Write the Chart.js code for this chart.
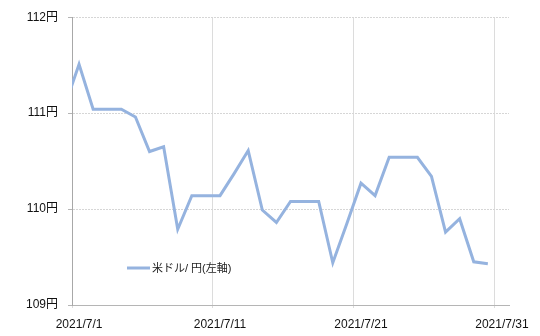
<!DOCTYPE html>
<html lang="ja">
<head>
<meta charset="utf-8">
<title>米ドル/円</title>
<script src="https://cdn.jsdelivr.net/npm/chart.js@4"></script>
<style>
  html, body { margin: 0; padding: 0; background: #fff; }
  #wrap { width: 540px; height: 336px; }
</style>
</head>
<body>
<div id="wrap"><canvas id="chart1" width="540" height="336"></canvas></div>
<script>
// datos (6/30 solo para que la línea entre desde el borde)
const fechas = [
  '2021/6/30',
  '2021/7/1', '2021/7/2', '2021/7/3', '2021/7/4', '2021/7/5', '2021/7/6', '2021/7/7',
  '2021/7/8', '2021/7/9', '2021/7/10', '2021/7/11', '2021/7/12', '2021/7/13', '2021/7/14',
  '2021/7/15', '2021/7/16', '2021/7/17', '2021/7/18', '2021/7/19', '2021/7/20', '2021/7/21',
  '2021/7/22', '2021/7/23', '2021/7/24', '2021/7/25', '2021/7/26', '2021/7/27', '2021/7/28',
  '2021/7/29', '2021/7/30', '2021/7/31'
];
const usdJpy = [
  111.08,
  111.51, 111.04, 111.04, 111.04, 110.96, 110.60, 110.65,
  109.79, 110.14, 110.14, 110.14, 110.37, 110.61, 109.99,
  109.86, 110.08, 110.08, 110.08, 109.44, 109.85, 110.27,
  110.14, 110.54, 110.54, 110.54, 110.34, 109.76, 109.90,
  109.45, 109.43, null
];
const serieLabel = '米ドル/ 円(左軸)';
const yTicks = [109, 110, 111, 112];
const primerDia = '2021/7/1';

const fuente = "'Liberation Sans', 'Noto Sans CJK JP', sans-serif";

// leyenda dentro del área del gráfico
const leyendaDentro = {
  id: 'leyendaDentro',
  afterDatasetsDraw(chart) {
    const { ctx, chartArea } = chart;
    const ds = chart.data.datasets[0];
    const x = chartArea.left + 55;
    const y = chartArea.bottom - 37;
    ctx.save();
    ctx.strokeStyle = ds.borderColor;
    ctx.lineWidth = 3;
    ctx.beginPath();
    ctx.moveTo(x, y);
    ctx.lineTo(x + 23, y);
    ctx.stroke();
    ctx.font = '11px ' + fuente;
    ctx.fillStyle = '#222';
    ctx.textBaseline = 'middle';
    ctx.textAlign = 'left';
    ctx.fillText(ds.label, x + 25, y + 0.5);
    ctx.restore();
  }
};

const ctx1 = document.getElementById('chart1').getContext('2d');
new Chart(ctx1, {
  type: 'line',
  data: {
    labels: fechas,
    datasets: [{
      label: serieLabel,
      data: usdJpy,
      borderColor: '#95B3DF',
      borderWidth: 3,
      pointRadius: 0,
      tension: 0,
      clip: 0,
      fill: false
    }]
  },
  options: {
    responsive: false,
    animation: false,
    devicePixelRatio: 1,
    layout: { padding: { top: 12.7, right: 31, bottom: 0, left: 0 } },
    plugins: {
      legend: { display: false },
      tooltip: { enabled: false }
    },
    scales: {
      x: {
        type: 'category',
        min: primerDia,
        offset: true,
        grid: {
          offset: true,
          color: (c) => (c.index !== undefined && c.index % 10 === 0) ? '#dcdcdc' : 'rgba(0,0,0,0)',
          tickLength: 3
        },
        border: { color: '#b5b5b5', width: 1 },
        ticks: {
          autoSkip: false,
          maxRotation: 0,
          padding: 9,
          color: '#111',
          font: { family: fuente, size: 12 },
          callback: function (value, index) {
            return index % 10 === 0 ? this.getLabelForValue(value) : '';
          }
        },
        afterFit: (s) => { s.height = 31; }
      },
      y: {
        min: yTicks[0],
        max: yTicks[yTicks.length - 1],
        afterBuildTicks: (s) => { s.ticks = yTicks.map(v => ({ value: v })); },
        grid: { color: '#d6d6d6', tickLength: 4, tickColor: '#b5b5b5' },
        border: { color: '#a8a8a8', width: 1, dash: [2, 1] },
        ticks: {
          padding: 10,
          color: '#111',
          font: { family: fuente, size: 12 },
          callback: (v) => v + '円'
        },
        afterFit: (s) => { s.width = 72; }
      }
    }
  },
  plugins: [leyendaDentro]
});
</script>
</body>
</html>
